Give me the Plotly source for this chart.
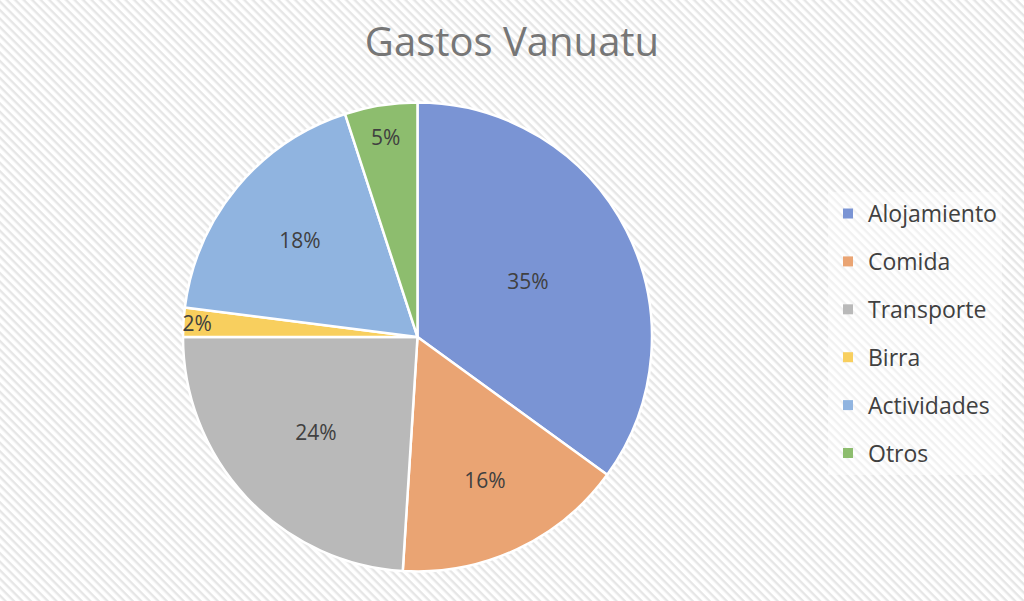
import base64
import plotly.graph_objects as go

categories = ["Alojamiento", "Comida", "Transporte", "Birra", "Actividades", "Otros"]
values = [35, 16, 24, 2, 18, 5]
colors = ["#7a94d4", "#eaa473", "#b9b9b9", "#f8cf5e", "#90b4e0", "#8dbd6e"]
title_text = "Gastos Vanuatu"

W, H = 1024, 601

svg = (
    f'<svg xmlns="http://www.w3.org/2000/svg" width="{W}" height="{H}">'
    '<defs><pattern id="p" patternUnits="userSpaceOnUse" width="6" height="6" '
    'patternTransform="rotate(45)">'
    '<rect width="6" height="6" fill="#ffffff"/>'
    '<rect width="6" height="2.4" fill="#e6e6e6"/>'
    '</pattern></defs>'
    f'<rect width="{W}" height="{H}" fill="url(#p)"/></svg>'
)
bg_src = "data:image/svg+xml;base64," + base64.b64encode(svg.encode()).decode()

fig = go.Figure()
fig.add_trace(go.Pie(
    labels=categories,
    values=values,
    sort=False,
    direction="clockwise",
    rotation=0,
    marker=dict(colors=colors, line=dict(color="white", width=2.5)),
    texttemplate="%{percent:.0%}",
    textposition="inside",
    insidetextorientation="horizontal",
    textfont=dict(family="Open Sans", size=21, color="#404040"),
    showlegend=False,
    hoverinfo="label+percent",
    domain=dict(x=[0.1787, 0.6367], y=[0.0491, 0.8295]),
))

for cat, col in zip(categories, colors):
    fig.add_trace(go.Scatter(
        x=[None], y=[None], mode="markers", name=cat,
        marker=dict(symbol="square", size=10, color=col),
        legendgroup=cat, showlegend=True,
    ))

fig.update_layout(
    width=W, height=H,
    margin=dict(l=0, r=0, t=0, b=0),
    paper_bgcolor="white",
    plot_bgcolor="rgba(0,0,0,0)",
    title=dict(text=title_text, x=0.5, xanchor="center", y=0.93, yanchor="middle",
               font=dict(family="Open Sans", size=40, color="#767676")),
    xaxis=dict(visible=False), yaxis=dict(visible=False),
    legend=dict(x=0.8086, xanchor="left", y=0.445, yanchor="middle",
                bgcolor="rgba(255,255,255,0.45)",
                font=dict(family="Open Sans", size=23, color="#404040"),
                tracegroupgap=15, itemwidth=30),
    uniformtext=dict(minsize=21, mode="show"),
    images=[dict(source=bg_src, xref="paper", yref="paper", x=0, y=1,
                 sizex=1, sizey=1, xanchor="left", yanchor="top",
                 sizing="stretch", layer="below")],
)

fig.write_html(
    "out.html",
    config={"displayModeBar": False},
    post_script="document.body.style.margin='0';document.body.style.overflow='hidden';",
)
